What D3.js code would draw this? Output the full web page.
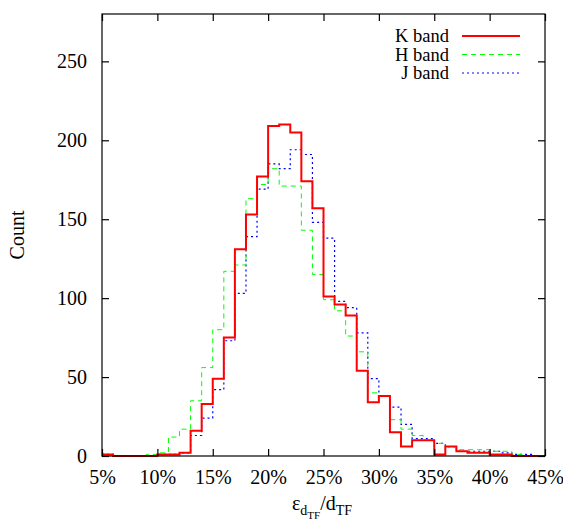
<!DOCTYPE html>
<html>
<head>
<meta charset="utf-8">
<script src="https://cdn.jsdelivr.net/npm/d3@7"></script>
<style>
  html,body{margin:0;padding:0;background:#fff;}
  svg text{font-family:"Liberation Serif","Times New Roman",serif;fill:#000;}
</style>
</head>
<body>
<div id="chart"></div>
<script>
// bin left edges, in percent (each bin is 1% wide)
var binStart=d3.range(5,45);
var kBand=[1,0,0,0,0,1,1,2,16,33,49,75,131,153,177,209,210,205,174,157,101,96,89,54,34,38,15,6,10,10,1,6,3,2,2,1,1,0,0,0];
var hBand=[1,0,0,0,1,2,12,17,35,56,80,117,121,163,172,182,171,171,143,115,99,92,76,66,40,38,23,17,13,10,8,6,4,4,4,3,3,1,0,0];
var jBand=[1,0,0,0,0,1,1,2,13,24,42,73,103,139,169,185,182,194,191,148,138,98,94,78,49,38,31,20,11,11,8,6,3,3,3,3,2,1,1,0];
var xTicks=[5,10,15,20,25,30,35,40,45];
var yTicks=[0,50,100,150,200,250];

var series=[
  {name:"K band",values:kBand,color:"#ff0000",width:2,dash:null},
  {name:"H band",values:hBand,color:"#00ff00",width:1,dash:"5,4"},
  {name:"J band",values:jBand,color:"#0000ff",width:1.2,dash:"2,3"}
];

var W=563,H=520, m={top:14,right:18,bottom:64,left:102};
var iw=W-m.left-m.right, ih=H-m.top-m.bottom;
var svg=d3.select("#chart").append("svg").attr("width",W).attr("height",H);
var g=svg.append("g").attr("transform","translate("+m.left+","+m.top+")");

var x=d3.scaleLinear().domain([5,45]).range([0,iw]);
var y=d3.scaleLinear().domain([0,280]).range([ih,0]);

// histogram steps
var line=d3.line().x(function(d){return x(d[0]);}).y(function(d){return y(d[1]);}).curve(d3.curveStepAfter);
// draw J, H, then K on top
[series[2],series[1],series[0]].forEach(function(s){
  var pts=binStart.map(function(b,i){return [b,s.values[i]];});
  pts.push([45,s.values[s.values.length-1]]);
  g.append("path").attr("d",line(pts)).attr("fill","none")
    .attr("stroke",s.color).attr("stroke-width",s.width)
    .attr("stroke-dasharray",s.dash);
});

// frame and ticks (mirrored, inward)
var tl=7;
g.append("rect").attr("width",iw).attr("height",ih).attr("fill","none").attr("stroke","#000").attr("stroke-width",1.2);
var axB=d3.axisBottom(x).tickValues(xTicks).tickSize(-tl).tickPadding(14).tickFormat(function(d){return d+"%";});
var axT=d3.axisTop(x).tickValues(xTicks).tickSize(-tl).tickFormat("");
var axL=d3.axisLeft(y).tickValues(yTicks).tickSize(-tl).tickPadding(15);
var axR=d3.axisRight(y).tickValues(yTicks).tickSize(-tl).tickFormat("");
[[axB,"translate(0,"+ih+")"],[axT,null],[axL,null],[axR,"translate("+iw+",0)"]].forEach(function(a){
  var gg=g.append("g").attr("transform",a[1]).call(a[0]);
  gg.select(".domain").remove();
  gg.selectAll("line").attr("stroke","#000").attr("stroke-width",1.2);
  gg.selectAll("text").style("font-size","20px").style("font-family","Liberation Serif");
});

// legend
var lg=g.append("g");
series.forEach(function(s,i){
  var ly=22+i*18.5;
  lg.append("text").attr("x",347).attr("y",ly+6).attr("text-anchor","end").style("font-size","18.5px").text(s.name);
  lg.append("line").attr("x1",360).attr("x2",418).attr("y1",ly).attr("y2",ly)
    .attr("stroke",s.color).attr("stroke-width",s.width).attr("stroke-dasharray",s.dash);
});

// axis titles
svg.append("text").attr("transform","translate(24,235) rotate(-90)").attr("text-anchor","middle").style("font-size","20px").text("Count");
var xt=svg.append("text").attr("x",322).attr("y",510).attr("text-anchor","middle").style("font-size","20px");
xt.append("tspan").text("\u03B5");
xt.append("tspan").attr("dy",5).style("font-size","14px").text("d");
xt.append("tspan").attr("dy",4).style("font-size","11px").text("TF");
xt.append("tspan").attr("dy",-9).text("/d");
xt.append("tspan").attr("dy",5).style("font-size","14px").text("TF");
</script>
</body>
</html>
